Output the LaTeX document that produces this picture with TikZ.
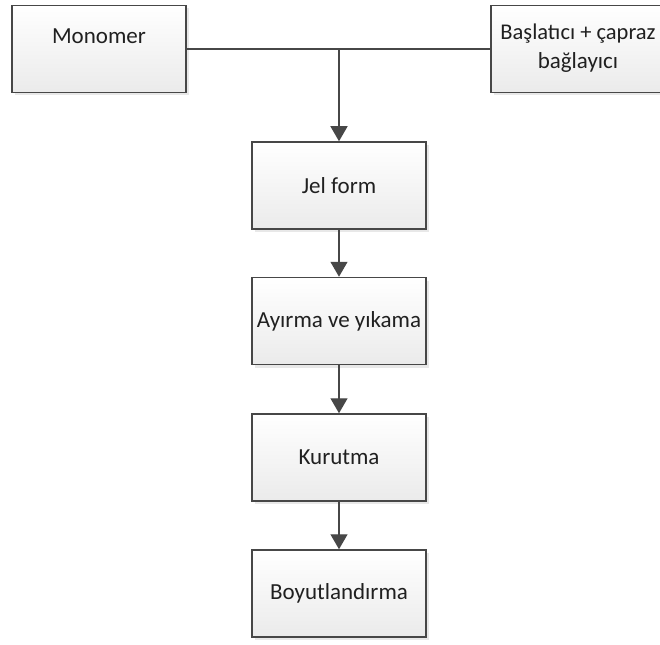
\documentclass[tikz,border=0pt]{standalone}
\usepackage{fontspec}
\setmainfont{Carlito}
\usetikzlibrary{arrows.meta,shadows}
\definecolor{edge}{HTML}{474747}
\definecolor{ink}{HTML}{202020}
\tikzset{
  stepbox/.style={draw=edge, line width=1.5pt, rectangle,
    minimum width=174pt, minimum height=87pt, inner sep=0pt,
    top color=white, bottom color=black!8,
    drop shadow={shadow xshift=3pt, shadow yshift=-3pt, fill=black!15, opacity=0.6},
    font=\fontsize{23}{29}\selectfont, text=ink, align=center},
  boxtext/.style={font=\fontsize{23}{29}\selectfont, text=ink, align=center, inner sep=0pt},
  flow/.style={draw=edge, line width=1.4pt,
    -{Triangle[width=17pt,length=15pt]}},
  link/.style={draw=edge, line width=1.4pt}
}
\begin{document}
\begin{tikzpicture}[x=1pt,y=-1pt]
  \useasboundingbox (0,0) rectangle (660,644);
  \begin{scope}
    \clip (0,0) rectangle (660,644);
    % inputs
    \node[stepbox] (mono) at (99,49) {};
    \node[boxtext] (monotext) at (99,36) {Monomer};
    \node[stepbox] (init) at (578,49) {};
    \node[boxtext] (inittext) at (578,48) {\fontsize{22.5}{29}\selectfont Başlatıcı + çapraz\\bağlayıcı};
    % process chain
    \node[stepbox] (gel)  at (339,185.5) {Jel form};
    \node[stepbox] (wash) at (339,321)   {Ayırma ve yıkama};
    \node[stepbox] (dry)  at (339,457.5) {Kurutma};
    \node[stepbox] (size) at (339,593.5) {Boyutlandırma};
    % connectors
    \coordinate (join) at (gel.north |- mono.east);
    \draw[link] (mono.east) -- (init.west);
    \draw[flow] (join) -- (gel.north);
    \draw[flow] (gel.south) -- (wash.north);
    \draw[flow] (wash.south) -- (dry.north);
    \draw[flow] (dry.south) -- (size.north);
  \end{scope}
\end{tikzpicture}
\end{document}
